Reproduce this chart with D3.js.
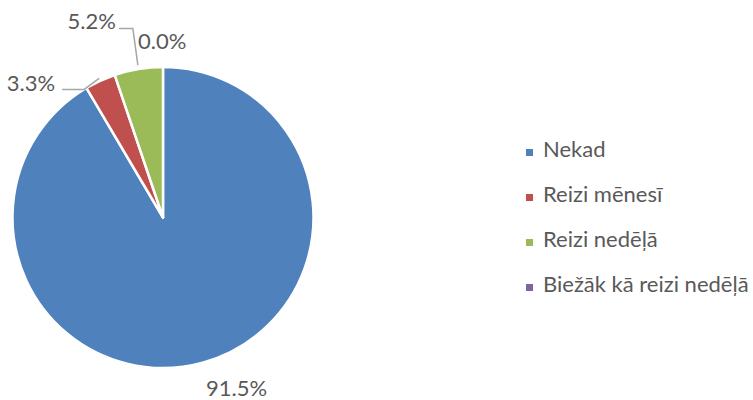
<!DOCTYPE html>
<html>
<head>
<meta charset="utf-8">
<script src="https://cdn.jsdelivr.net/npm/d3@7"></script>
<style>
  html, body { margin: 0; padding: 0; background: #fff; }
  svg { display: block; }
  text { font-family: "Lato", "Open Sans", sans-serif; fill: #595959; }
</style>
</head>
<body>
<svg id="chart" width="753" height="400"></svg>
<script>
const categories = ["Nekad", "Reizi mēnesī", "Reizi nedēļā", "Biežāk kā reizi nedēļā"];
const values = [91.5, 3.3, 5.2, 0.0];
const labels = ["91.5%", "3.3%", "5.2%", "0.0%"];
const colors = ["#4f81bd", "#c0504d", "#9bbb59", "#8064a2"];

const svg = d3.select("#chart");
const cx = 163, cy = 217.5, R = 150.5;
const FS = 22;

const pie = d3.pie().sort(null).value(d => d.value);
const data = categories.map((c, i) => ({ name: c, value: values[i], label: labels[i], color: colors[i] }));
const arcs = pie(data);
const arc = d3.arc().innerRadius(0).outerRadius(R);

const g = svg.append("g").attr("transform", `translate(${cx},${cy})`);
g.selectAll("path")
  .data(arcs.filter(a => a.endAngle > a.startAngle))
  .join("path")
  .attr("d", arc)
  .attr("fill", d => d.data.color)
  .attr("stroke", "#fff")
  .attr("stroke-width", 2.5)
  .attr("stroke-linejoin", "round");

function mid(a) { return (a.startAngle + a.endAngle) / 2; }
function pt(angle, r) { return [Math.sin(angle) * r, -Math.cos(angle) * r]; }
const lineStyle = sel => sel.attr("fill", "none").attr("stroke", "#a6a6a6").attr("stroke-width", 1.5);

// 91.5% label: below the pie
{
  const a = arcs[0];
  const [x, y] = pt(mid(a), R + 22);
  g.append("text").attr("x", x + 28).attr("y", y + 12)
    .attr("text-anchor", "middle").attr("font-size", FS).text(a.data.label);
}
// 3.3% label with leader line
{
  const a = arcs[1];
  const p0 = pt(mid(a), R + 2.5);
  const elbow = [p0[0] - 15, p0[1] + 11];
  const end = [elbow[0] - 22, elbow[1]];
  g.append("polyline").attr("points", [p0, elbow, end].map(p => p.join(",")).join(" ")).call(lineStyle);
  g.append("text").attr("x", end[0] - 7).attr("y", end[1] + 2)
    .attr("text-anchor", "end").attr("font-size", FS).text(a.data.label);
}
// 5.2% label with leader line
{
  const a = arcs[2];
  const p0 = pt(mid(a), R + 4);
  const elbow = [p0[0] - 5, p0[1] - 36.5];
  const end = [elbow[0] - 14, elbow[1]];
  g.append("polyline").attr("points", [p0, elbow, end].map(p => p.join(",")).join(" ")).call(lineStyle);
  g.append("text").attr("x", end[0] - 3).attr("y", end[1])
    .attr("text-anchor", "end").attr("font-size", FS).text(a.data.label);
}
// 0.0% label
{
  const a = arcs[3];
  const p0 = pt(a.startAngle, R);
  g.append("text").attr("x", p0[0] - 25).attr("y", p0[1] - 18)
    .attr("text-anchor", "start").attr("font-size", FS).text(a.data.label);
}

// Legend
const legendY = d3.scalePoint().domain(categories).range([157, 292]);
const lg = svg.append("g");
const items = lg.selectAll("g").data(data).join("g")
  .attr("transform", d => `translate(526,${legendY(d.name)})`);
items.append("rect").attr("x", 0).attr("y", -8).attr("width", 7).attr("height", 7)
  .attr("fill", d => d.color);
items.append("text").attr("x", 17).attr("y", 0).attr("font-size", FS).text(d => d.name);
</script>
</body>
</html>
